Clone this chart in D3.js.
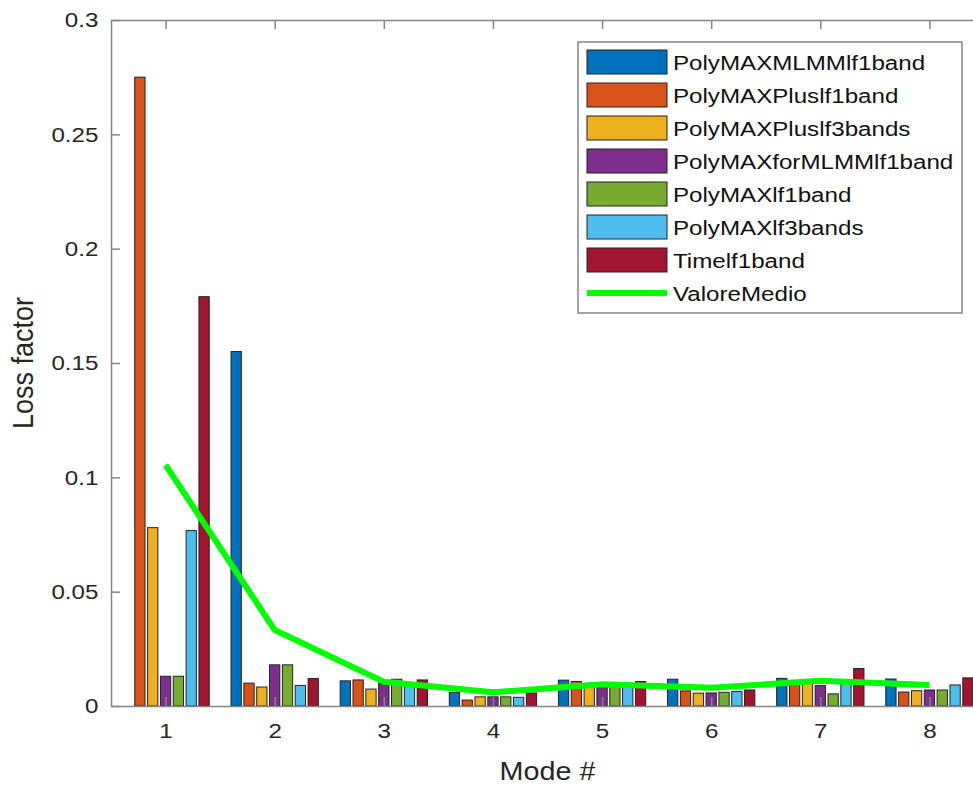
<!DOCTYPE html>
<html>
<head>
<meta charset="utf-8">
<script src="https://cdn.jsdelivr.net/npm/d3@7"></script>
<style>
  body { margin: 0; background: #fff; }
  svg { display: block; font-family: "Liberation Sans", Arial, sans-serif; }
</style>
</head>
<body>
<div id="vis"></div>
<script>
const FRAME_WIDTH = 973;
const FRAME_HEIGHT = 787;

// data
const MODES = [1, 2, 3, 4, 5, 6, 7, 8];
const SERIES = ["PolyMAXMLMMlf1band", "PolyMAXPluslf1band", "PolyMAXPluslf3bands",
                "PolyMAXforMLMMlf1band", "PolyMAXlf1band", "PolyMAXlf3bands", "Timelf1band"];
const COLORS = ["#0072BD", "#D95319", "#EDB120", "#7E2F8E", "#77AC30", "#4DBEEE", "#A2142F"];

const POLYMAX_MLMM_1 = [0.0, 0.155, 0.0110, 0.0060, 0.0113, 0.0117, 0.0121, 0.0118];
const POLYMAX_PLUS_1 = [0.275, 0.0100, 0.0114, 0.0026, 0.0107, 0.0066, 0.0100, 0.0061];
const POLYMAX_PLUS_3 = [0.078, 0.0083, 0.0074, 0.0040, 0.0092, 0.0056, 0.0100, 0.0067];
const POLYMAX_FORMLMM_1 = [0.013, 0.0180, 0.0100, 0.0040, 0.0092, 0.0057, 0.0089, 0.0070];
const POLYMAX_1 = [0.013, 0.0180, 0.0117, 0.0040, 0.0092, 0.0060, 0.0053, 0.0070];
const POLYMAX_3 = [0.0767, 0.0090, 0.0100, 0.0038, 0.0092, 0.0063, 0.0100, 0.0092];
const TIME_1 = [0.179, 0.0120, 0.0114, 0.0057, 0.0107, 0.0070, 0.0164, 0.0123];
const VALORE_MEDIO = [0.1054, 0.0332, 0.0106, 0.0060, 0.0095, 0.0080, 0.0110, 0.0092];

const VALUES = [POLYMAX_MLMM_1, POLYMAX_PLUS_1, POLYMAX_PLUS_3, POLYMAX_FORMLMM_1,
                POLYMAX_1, POLYMAX_3, TIME_1];

const Y_TICKS = [0, 0.05, 0.1, 0.15, 0.2, 0.25, 0.3];

const PLOT = {left: 111, right: 984, top: 20, bottom: 706};
const AXIS_COLOR = "#858585";
const TEXT_COLOR = "#262626";
const STRETCH = 1.15;

const svg = d3.select("#vis").append("svg")
    .attr("width", FRAME_WIDTH)
    .attr("height", FRAME_HEIGHT);

const X_SCALE = d3.scaleLinear().domain([0.5, 8.5]).range([PLOT.left, PLOT.right]);
const Y_SCALE = d3.scaleLinear().domain([0, 0.3]).range([PLOT.bottom, PLOT.top]);

// offsets of each series inside a group, in data units
const SUB = d3.scaleBand().domain(d3.range(SERIES.length)).range([-0.4, 0.4]).paddingInner(0.2);
const barW = X_SCALE(SUB.bandwidth()) - X_SCALE(0);

// bars
const bars = [];
VALUES.forEach((vals, s) => {
  vals.forEach((v, m) => bars.push({s: s, mode: MODES[m], value: v}));
});

svg.append("g").selectAll("rect")
  .data(bars)
  .enter()
  .append("rect")
    .attr("x", d => X_SCALE(d.mode + SUB(d.s)))
    .attr("width", barW)
    .attr("y", d => Y_SCALE(d.value))
    .attr("height", d => Y_SCALE(0) - Y_SCALE(d.value))
    .attr("fill", d => COLORS[d.s])
    .attr("stroke", "#222")
    .attr("stroke-width", 1);

// mean line
const line = d3.line()
    .x((d, i) => X_SCALE(MODES[i]))
    .y(d => Y_SCALE(d));

svg.append("path")
    .datum(VALORE_MEDIO)
    .attr("d", line)
    .attr("fill", "none")
    .attr("stroke", "#00FF00")
    .attr("stroke-width", 6)
    .attr("stroke-linejoin", "round");

// axes (box with inward ticks)
const styleAxis = (g) => {
  g.select(".domain").attr("stroke", AXIS_COLOR).attr("stroke-width", 1.5);
  g.selectAll(".tick line").attr("stroke", AXIS_COLOR).attr("stroke-width", 1.5);
  g.selectAll(".tick text").attr("fill", TEXT_COLOR);
};

svg.append("g")
    .attr("transform", "translate(0," + PLOT.bottom + ")")
    .call(d3.axisBottom(X_SCALE).tickValues(MODES).tickSizeInner(-9).tickSizeOuter(0)
          .tickPadding(17).tickFormat(d3.format("d")))
    .call(styleAxis)
    .call(g => g.selectAll(".tick text")
        .attr("font-size", 21)
        .attr("transform", "scale(" + STRETCH + ",1)"));

svg.append("g")
    .attr("transform", "translate(0," + PLOT.top + ")")
    .call(d3.axisTop(X_SCALE).tickValues(MODES).tickSizeInner(-9).tickSizeOuter(0)
          .tickFormat(""))
    .call(styleAxis);

svg.append("g")
    .attr("transform", "translate(" + PLOT.left + ",0)")
    .call(d3.axisLeft(Y_SCALE).tickValues(Y_TICKS).tickSizeInner(-9).tickSizeOuter(0)
          .tickPadding(11).tickFormat(d => d === 0 ? "0" : String(d)))
    .call(styleAxis)
    .call(g => g.selectAll(".tick text")
        .attr("font-size", 21)
        .attr("transform", "scale(" + STRETCH + ",1)"));

svg.append("g")
    .attr("transform", "translate(" + PLOT.right + ",0)")
    .call(d3.axisRight(Y_SCALE).tickValues(Y_TICKS).tickSizeInner(-9).tickSizeOuter(0)
          .tickFormat(""))
    .call(styleAxis);

// axis labels
svg.append("text")
    .attr("transform", "translate(" + ((PLOT.left + PLOT.right) / 2) + ",780) scale(" + STRETCH + ",1)")
    .attr("text-anchor", "middle")
    .attr("font-size", 25)
    .attr("fill", TEXT_COLOR)
    .text("Mode #");

svg.append("text")
    .attr("transform", "translate(33," + ((PLOT.top + PLOT.bottom) / 2) + ") rotate(-90) scale(1,1.1)")
    .attr("text-anchor", "middle")
    .attr("font-size", 27)
    .attr("fill", TEXT_COLOR)
    .text("Loss factor");

// legend
const LEG = {x: 578, y: 42, w: 384, h: 271, row: 33};
const legend = svg.append("g").attr("transform", "translate(" + LEG.x + "," + LEG.y + ")");

legend.append("rect")
    .attr("width", LEG.w)
    .attr("height", LEG.h)
    .attr("fill", "#fff")
    .attr("stroke", AXIS_COLOR)
    .attr("stroke-width", 1.5);

const items = SERIES.concat(["ValoreMedio"]);
const rows = legend.selectAll(".item")
  .data(items)
  .enter()
  .append("g")
    .attr("class", "item")
    .attr("transform", (d, i) => "translate(0," + (20 + i * LEG.row) + ")");

rows.filter((d, i) => i < SERIES.length)
  .append("rect")
    .attr("x", 9)
    .attr("y", -12)
    .attr("width", 80)
    .attr("height", 24)
    .attr("fill", (d, i) => COLORS[i])
    .attr("stroke", "#222")
    .attr("stroke-width", 1);

rows.filter((d, i) => i === SERIES.length)
  .append("line")
    .attr("x1", 9)
    .attr("x2", 89)
    .attr("stroke", "#00FF00")
    .attr("stroke-width", 6);

rows.append("text")
    .attr("transform", "translate(95,0) scale(" + STRETCH + ",1)")
    .attr("dy", "0.36em")
    .attr("font-size", 21)
    .attr("fill", "#111")
    .text(d => d);
</script>
</body>
</html>
